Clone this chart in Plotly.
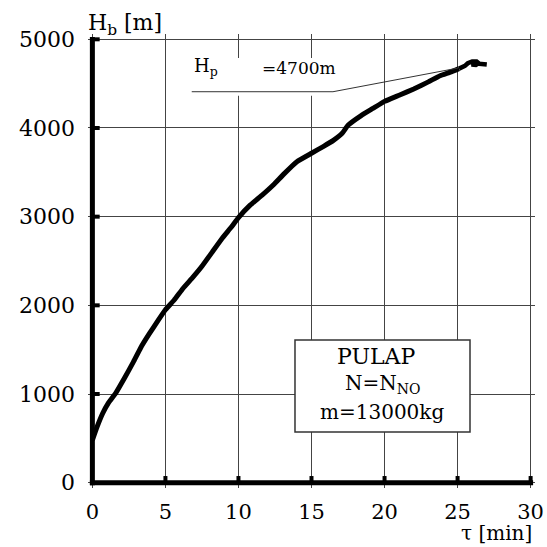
import plotly.graph_objects as go

# Flight time [min] and barometric altitude [m] of the climb
tau_min = [0.0, 0.3, 0.7, 1.1, 1.6, 2.2, 2.8, 3.3, 3.9, 4.5, 5.0, 5.6, 6.2, 6.9,
           7.5, 8.2, 8.9, 9.5, 10.0, 10.8, 11.6, 12.4, 13.1, 14.0, 15.0, 15.8,
           16.5, 17.1, 17.5, 18.4, 19.2, 20.0, 21.0, 22.0, 23.0, 23.8, 24.5,
           25.1, 25.5, 25.7, 26.0, 26.3, 26.45, 26.25, 25.95, 26.3, 26.7, 27.0]
h_b_m = [480, 620, 780, 900, 1010, 1180, 1360, 1520, 1680, 1830, 1950, 2060,
         2190, 2320, 2440, 2600, 2760, 2880, 2990, 3130, 3240, 3360, 3480, 3620,
         3715, 3790, 3860, 3940, 4030, 4140, 4220, 4300, 4370, 4440, 4520, 4590,
         4630, 4670, 4700, 4730, 4750, 4750, 4730, 4710, 4715, 4728, 4722, 4716]

x_ticks = [0, 5, 10, 15, 20, 25, 30]
y_ticks = [0, 1000, 2000, 3000, 4000, 5000]

ceiling_m = 4700          # practical ceiling H_p
ceiling_tau = 25.03       # where the leader line meets the curve

FONT = "DejaVu Serif"
X_RANGE = [-0.3, 30.3]
Y_RANGE = [-60, 5060]
M_L, M_R, M_T, M_B = 88, 12, 34, 59
W = H = 547


def px_x(px):
    """Horizontal pixel -> paper fraction."""
    return (px - M_L) / (W - M_L - M_R)


def px_y(py):
    """Vertical pixel -> paper fraction."""
    return (H - M_B - py) / (H - M_T - M_B)


fig = go.Figure()

# the climb is smooth up to the ceiling, then a small loop at the top
n_smooth = 38
fig.add_trace(go.Scatter(
    x=tau_min[:n_smooth], y=h_b_m[:n_smooth], mode="lines",
    line=dict(color="black", width=5, shape="spline", smoothing=0.3),
    hoverinfo="skip", showlegend=False,
))
fig.add_trace(go.Scatter(
    x=tau_min[n_smooth - 1:], y=h_b_m[n_smooth - 1:], mode="lines",
    line=dict(color="black", width=4.5, shape="linear"),
    hoverinfo="skip", showlegend=False,
))

shapes = []

# white patch behind the ceiling label, above the grid
shapes.append(dict(type="rect", xref="x", yref="y", x0=6.35, x1=16.95,
                   y0=4365, y1=4790, fillcolor="white", line=dict(width=0),
                   layer="between"))
# underline + leader line to the curve
shapes.append(dict(type="line", xref="x", yref="y", x0=6.8, x1=16.47,
                   y0=4409, y1=4409, line=dict(color="#333", width=1)))
shapes.append(dict(type="line", xref="x", yref="y", x0=16.47, x1=ceiling_tau,
                   y0=4409, y1=4676, line=dict(color="#333", width=1)))

# info box
shapes.append(dict(type="rect", xref="x", yref="y", x0=13.87, x1=25.85,
                   y0=571, y1=1609, fillcolor="white",
                   line=dict(color="#333", width=1.5), layer="between"))

# heavy axes
shapes.append(dict(type="line", xref="x", yref="y", x0=0, x1=0,
                   y0=-30, y1=5025, line=dict(color="black", width=5)))
shapes.append(dict(type="line", xref="x", yref="y", x0=-0.17, x1=30.17,
                   y0=0, y1=0, line=dict(color="black", width=5)))
# short heavy ticks pointing into the plot
for yv in y_ticks[1:]:
    shapes.append(dict(type="line", xref="x", yref="y", x0=0, x1=0.5,
                       y0=yv, y1=yv, line=dict(color="black", width=4)))
for xv in x_ticks[1:]:
    shapes.append(dict(type="line", xref="x", yref="y", x0=xv, x1=xv,
                       y0=0, y1=75, line=dict(color="black", width=4)))

annotations = [
    dict(x=px_x(86), y=px_y(24), xref="paper", yref="paper",
         text="H<sub>b</sub> [m]", showarrow=False,
         xanchor="left", yanchor="middle",
         font=dict(family=FONT, size=22, color="black")),
    dict(x=px_x(534), y=px_y(547), xref="paper", yref="paper",
         text="τ [min]", showarrow=False,
         xanchor="right", yanchor="bottom",
         font=dict(family=FONT, size=20, color="black")),
    dict(x=6.8, y=4692, xref="x", yref="y", text="H<sub>p</sub>",
         showarrow=False, xanchor="left", yanchor="middle",
         font=dict(family=FONT, size=18, color="black")),
    dict(x=11.45, y=4682, xref="x", yref="y", text=f"={ceiling_m}m",
         showarrow=False, xanchor="left", yanchor="middle",
         font=dict(family=FONT, size=17, color="black")),
    dict(x=19.41, y=1428, xref="x", yref="y", text="PULAP",
         showarrow=False, xanchor="center", yanchor="middle",
         font=dict(family=FONT, size=22, color="black")),
    dict(x=19.89, y=1110, xref="x", yref="y", text="N=N<sub>NO</sub>",
         showarrow=False, xanchor="center", yanchor="middle",
         font=dict(family=FONT, size=20, color="black")),
    dict(x=19.82, y=797, xref="x", yref="y", text="m=13000kg",
         showarrow=False, xanchor="center", yanchor="middle",
         font=dict(family=FONT, size=20, color="black")),
]

axis_common = dict(showgrid=True, gridcolor="#444", gridwidth=1.3,
                   zeroline=False, showline=False, ticks="", automargin=False,
                   fixedrange=True)

fig.update_layout(
    width=W, height=H,
    margin=dict(l=M_L, r=M_R, t=M_T, b=M_B),
    paper_bgcolor="white", plot_bgcolor="white",
    xaxis=dict(range=X_RANGE, tickmode="array", tickvals=x_ticks,
               ticktext=[str(v) for v in x_ticks], ticklabelstandoff=9,
               tickfont=dict(family=FONT, size=21, color="black"),
               **axis_common),
    yaxis=dict(range=Y_RANGE, tickmode="array", tickvals=y_ticks,
               ticktext=[str(v) for v in y_ticks], ticklabelstandoff=12,
               tickfont=dict(family=FONT, size=22, color="black"),
               **axis_common),
    shapes=shapes,
    annotations=annotations,
    showlegend=False,
)

fig.write_html("out.html")
